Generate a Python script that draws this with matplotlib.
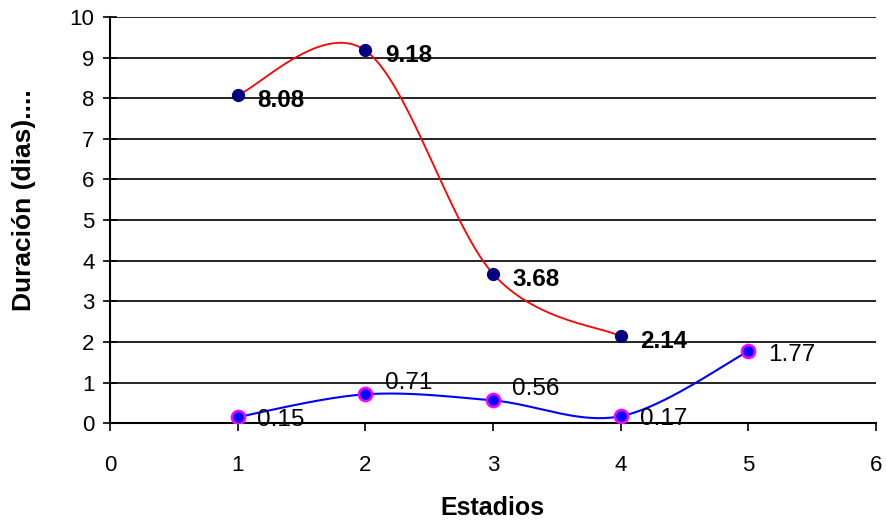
import numpy as np
import matplotlib.pyplot as plt

plt.rcParams['font.family'] = ['Liberation Sans', 'DejaVu Sans']

# duracion por estadio
estadios_a = [1, 2, 3, 4]
duracion_a = [8.08, 9.18, 3.68, 2.14]
estadios_b = [1, 2, 3, 4, 5]
duracion_b = [0.15, 0.71, 0.56, 0.17, 1.77]

x_ticks = [0, 1, 2, 3, 4, 5, 6]
y_ticks = [0, 1, 2, 3, 4, 5, 6, 7, 8, 9, 10]


def smooth(xs, ys, n=40):
    # curva suavizada tipo Excel (Bezier con tangentes Catmull-Rom)
    p = np.column_stack([xs, ys]).astype(float)
    p = np.vstack([p[0], p, p[-1]])
    out = []
    t = np.linspace(0, 1, n)[:, None]
    for i in range(1, len(p) - 2):
        p0, p3 = p[i], p[i + 1]
        c1 = p0 + (p[i + 1] - p[i - 1]) / 6
        c2 = p3 - (p[i + 2] - p[i]) / 6
        seg = ((1 - t) ** 3 * p0 + 3 * (1 - t) ** 2 * t * c1
               + 3 * (1 - t) * t ** 2 * c2 + t ** 3 * p3)
        out.append(seg)
    out = np.vstack(out)
    return out[:, 0], out[:, 1]


fig = plt.figure(figsize=(8.86, 5.25), dpi=100)
ax = fig.add_axes([0.124, 0.194, 0.8647, 0.7735])

for y in y_ticks[1:]:
    ax.axhline(y, color='black', lw=1.2, zorder=1)

sx, sy = smooth(estadios_a, duracion_a)
ax.plot(sx, sy, color='red', lw=1.3, zorder=2)
ax.plot(estadios_a, duracion_a, 'o', color='#000080', ms=8.5, zorder=3)

sx, sy = smooth(estadios_b, duracion_b)
ax.plot(sx, sy, color='blue', lw=1.5, zorder=2)
ax.plot(estadios_b, duracion_b, 'o', mfc='blue', mec='magenta', mew=1.8, ms=9.5, zorder=3)

for x, y in zip(estadios_a, duracion_a):
    ax.annotate(f'{y:.2f}', (x, y), xytext=(14, -4), textcoords='offset points',
                ha='left', va='center', fontsize=17.5, fontweight='bold')

offs_b = [(14, -2), (14, 8), (14, 8), (14, -2), (14, -3)]
for (x, y), off in zip(zip(estadios_b, duracion_b), offs_b):
    ax.annotate(f'{y:.2f}', (x, y), xytext=off, textcoords='offset points',
                ha='left', va='center', fontsize=17.5)

ax.set_xlim(0, 6)
ax.set_ylim(0, 10)
ax.set_xticks(x_ticks)
ax.set_yticks(y_ticks)
ax.tick_params(axis='both', labelsize=16, width=1.2, color='black')
ax.tick_params(axis='y', direction='inout', length=10, pad=6)
ax.tick_params(axis='x', direction='out', length=6, pad=17)
for s in ['top', 'right']:
    ax.spines[s].set_visible(False)
for s in ['left', 'bottom']:
    ax.spines[s].set_linewidth(1.5)

ax.set_xlabel('Estadios', fontsize=18, fontweight='bold', labelpad=14)
ax.set_ylabel('Duración (dias)....', fontsize=19, fontweight='bold')
ax.yaxis.set_label_coords(-0.097, 0.55)

fig.savefig('out.png', dpi=100)
